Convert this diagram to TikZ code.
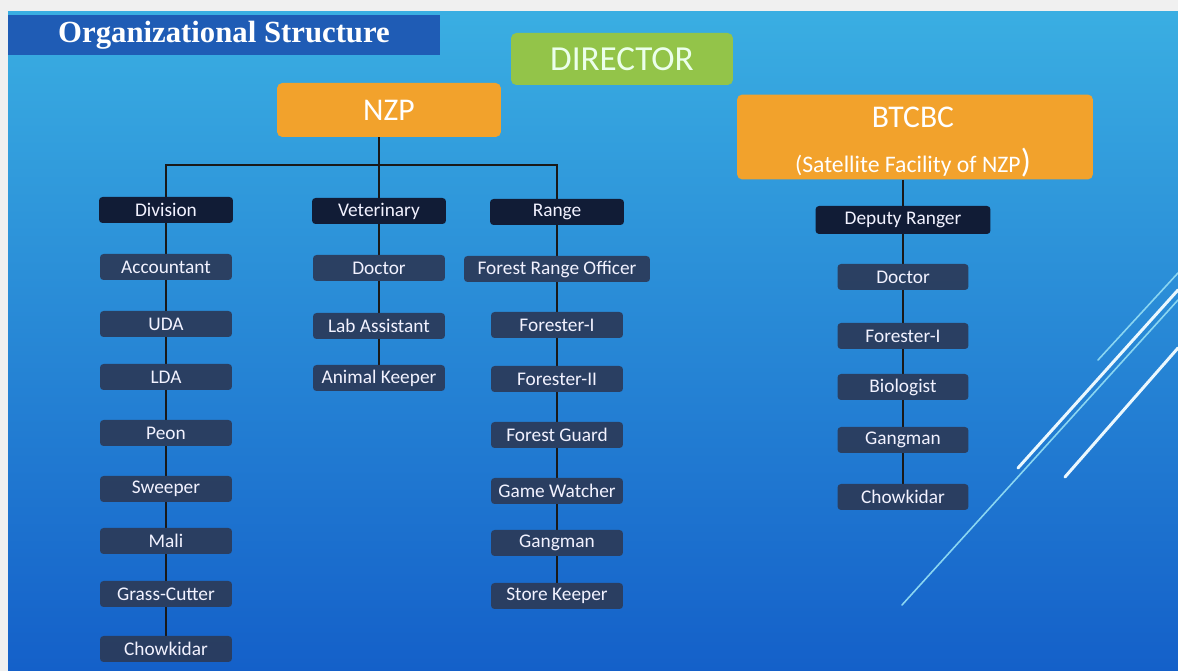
\documentclass[tikz,border=0pt]{standalone}
\usepackage{fontspec}
\setsansfont{Carlito}
\newfontfamily\titlefont{Liberation Serif}
\usepackage{xcolor}
\usetikzlibrary{
	backgrounds    %背景
}
\definecolor{bgtop}{HTML}{3AAEE2}
\definecolor{bgmid}{HTML}{2590DA}
\definecolor{bgbot}{HTML}{1460C9}
\definecolor{titleblue}{HTML}{1F5CB5}
\definecolor{zooorange}{HTML}{F2A22C}
\definecolor{dirgreen}{HTML}{93C449}
\definecolor{headnavy}{HTML}{111C36}
\definecolor{itemnavy}{HTML}{2B3C5C}
\definecolor{decoblue}{HTML}{8AD6F2}
\pgfdeclarelayer{back}
\pgfdeclarelayer{mid}
\pgfsetlayers{back,mid,main}
\tikzset{
	every picture/.style={
		x=0.02cm,y=-0.02cm
	},
	hbox/.style={rectangle,rounded corners=2pt,
		fill=headnavy,text=white!95!blue,
		font=\sffamily\fontsize{11}{13}\selectfont,
		minimum width=2.68cm,minimum height=0.52cm,inner sep=1pt},
	ibox/.style={hbox,fill=itemnavy,fill opacity=0.95,text opacity=1,
		minimum width=2.64cm},
	obox/.style={rectangle,rounded corners=3pt,fill=zooorange},
	link/.style={draw=black!90,line width=1.3pt},
	deco/.style={white!92!cyan,line width=1.7pt,line cap=round},
	decothin/.style={decoblue,line width=0.9pt,line cap=round}
}

\begin{document}
\begin{tikzpicture}
\useasboundingbox (0,0) rectangle (1178,671);
\begin{pgfonlayer}{back}
\fill[gray!12] (0,0) rectangle (1178,671);
\shade[top color=bgtop,middle color=bgmid,bottom color=bgbot] (8,12) rectangle (1178,671);
% 装饰线
\draw[deco] (1018,468) -- (1178,290);
\draw[deco] (1065,477) -- (1178,348);
\draw[decothin] (1098,360) -- (1178,273);
\draw[decothin] (902,605) -- (1178,300);
\end{pgfonlayer}

\node[rectangle,fill=titleblue,minimum width=8.64cm,minimum height=0.72cm,
	text=white,font=\titlefont\bfseries\fontsize{17.5}{20}\selectfont] (T) at (224,35) {Organizational Structure};
\node[rectangle,rounded corners=3pt,fill=dirgreen,minimum width=4.44cm,minimum height=1.04cm,
	text=white!92!green,font=\sffamily\fontsize{20}{24}\selectfont] (DIR) at (622,59) {DIRECTOR};
\node[obox,minimum width=4.48cm,minimum height=1.08cm,text=white,
	font=\sffamily\fontsize{18}{22}\selectfont] (NZP) at (389,110) {NZP};
\node[obox,minimum width=7.12cm,minimum height=1.7cm] (BTC) at (915,137) {};
\node[text=white,font=\sffamily\fontsize{18}{22}\selectfont] (BTCa) at (913,117) {BTCBC};
\node[text=white,font=\sffamily\fontsize{13.5}{16}\selectfont] (BTCb) at (913,163)
	{(Satellite Facility of NZP{\fontsize{19}{20}\selectfont)}};

% 第一层
\node[hbox] (Div) at (166,210) {Division};
\node[hbox] (Vet) at (379,211) {Veterinary};
\node[hbox] (Rng) at (557,212) {Range};
\node[hbox,minimum width=3.5cm,minimum height=0.56cm] (DR) at (903,220) {Deputy Ranger};

% Division
\node[ibox] (Acc) at (166,267) {Accountant};
\node[ibox] (UDA) at (166,324) {UDA};
\node[ibox] (LDA) at (166,377) {LDA};
\node[ibox] (Peon) at (166,433) {Peon};
\node[ibox] (Swp) at (166,489) {Sweeper};
\node[ibox] (Mali) at (166,541) {Mali};
\node[ibox] (Grass) at (166,594) {Grass-Cutter};
\node[ibox] (ChkA) at (166,649) {Chowkidar};

% Veterinary
\node[ibox] (DocA) at (379,268) {Doctor};
\node[ibox] (Lab) at (379,326) {Lab Assistant};
\node[ibox] (AK) at (379,378) {Animal Keeper};

% Range
\node[ibox,minimum width=3.72cm] (FRO) at (557,269) {Forest Range Officer};
\node[ibox] (FI) at (557,325) {Forester-I};
\node[ibox] (FII) at (557,379) {Forester-II};
\node[ibox] (FG) at (557,435) {Forest Guard};
\node[ibox] (GW) at (557,491) {Game Watcher};
\node[ibox] (GmA) at (557,543) {Gangman};
\node[ibox] (SK) at (557,596) {Store Keeper};

% BTCBC
\node[ibox,minimum width=2.62cm] (DocB) at (903,277) {Doctor};
\node[ibox,minimum width=2.62cm] (FIB) at (903,336) {Forester-I};
\node[ibox,minimum width=2.62cm] (Bio) at (903,387) {Biologist};
\node[ibox,minimum width=2.62cm] (GmB) at (903,440) {Gangman};
\node[ibox,minimum width=2.62cm] (ChkB) at (903,497) {Chowkidar};

% 连线
\begin{pgfonlayer}{mid}
\coordinate (J) at (379,165);
\draw[link] (NZP.south -| J) -- (J);
\draw[link] (Div) -- (Div |- J) -- (Rng |- J) -- (Rng);
\draw[link] (J) -- (Vet);
\draw[link] (BTC.south -| DR) -- (DR);
\draw[link] (Div) -- (Acc) -- (UDA) -- (LDA) -- (Peon) -- (Swp) -- (Mali) -- (Grass) -- (ChkA);
\draw[link] (Vet) -- (DocA) -- (Lab) -- (AK);
\draw[link] (Rng) -- (FRO) -- (FI) -- (FII) -- (FG) -- (GW) -- (GmA) -- (SK);
\draw[link] (DR) -- (DocB) -- (FIB) -- (Bio) -- (GmB) -- (ChkB);
\end{pgfonlayer}
\end{tikzpicture}
\end{document}
